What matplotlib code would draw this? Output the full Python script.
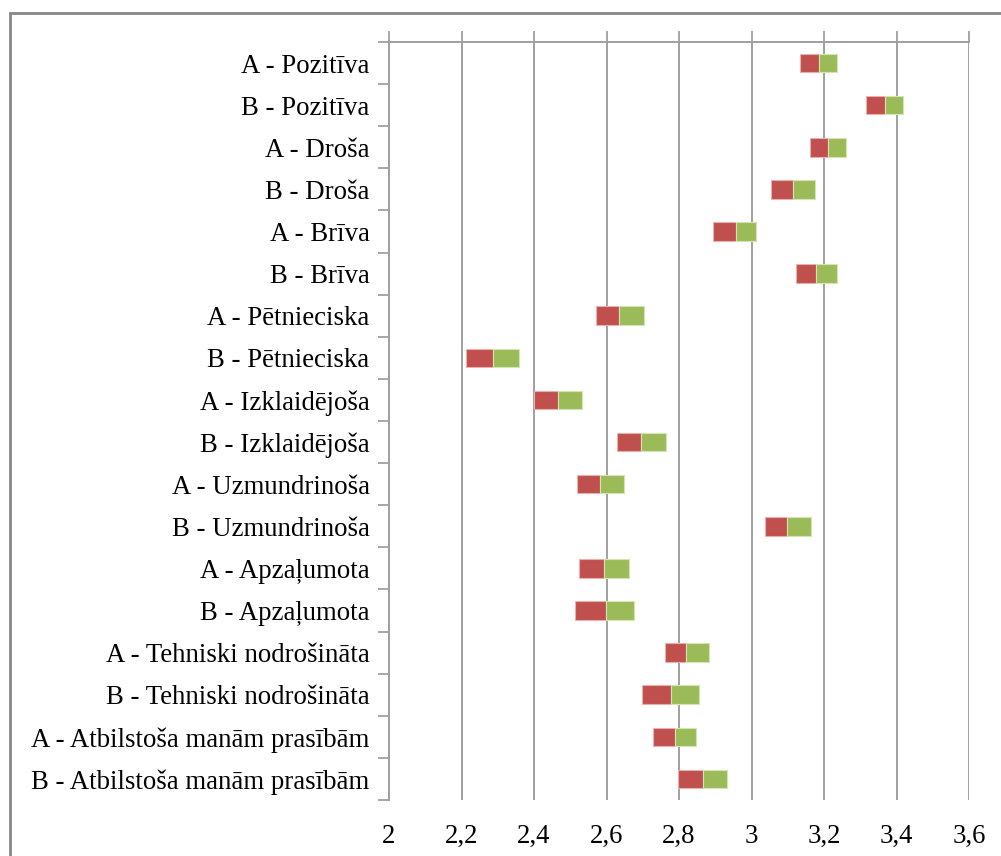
import matplotlib
matplotlib.use("Agg")
import matplotlib.pyplot as plt
from matplotlib.patches import Rectangle
import numpy as np

categories = [
    "A - Pozitīva", "B - Pozitīva", "A - Droša", "B - Droša",
    "A - Brīva", "B - Brīva", "A - Pētnieciska", "B - Pētnieciska",
    "A - Izklaidējoša", "B - Izklaidējoša", "A - Uzmundrinoša", "B - Uzmundrinoša",
    "A - Apzaļumota", "B - Apzaļumota", "A - Tehniski nodrošināta",
    "B - Tehniski nodrošināta", "A - Atbilstoša manām prasībām",
    "B - Atbilstoša manām prasībām",
]
low = [3.135, 3.316, 3.160, 3.054, 2.894, 3.122, 2.572, 2.212, 2.399, 2.629,
       2.519, 3.036, 2.523, 2.512, 2.761, 2.699, 2.728, 2.796]
mid = [3.185, 3.369, 3.211, 3.114, 2.956, 3.178, 2.635, 2.286, 2.467, 2.696,
       2.583, 3.099, 2.594, 2.598, 2.820, 2.778, 2.788, 2.867]
high = [3.237, 3.418, 3.262, 3.174, 3.012, 3.237, 2.703, 2.359, 2.533, 2.763,
        2.647, 3.163, 2.663, 2.677, 2.883, 2.855, 2.848, 2.932]
xticks = [2.0, 2.2, 2.4, 2.6, 2.8, 3.0, 3.2, 3.4, 3.6]
xticklabels = ["2", "2,2", "2,4", "2,6", "2,8", "3", "3,2", "3,4", "3,6"]

W, H = 1001, 856
fig = plt.figure(figsize=(W / 100, H / 100), dpi=100)
fig.patch.set_facecolor("white")

# outer chart frame (cropped on the right/bottom)
fig.patches.append(Rectangle((10 / W, -0.1), 1.2, (H - 13) / H + 0.1,
                             transform=fig.transFigure, fill=False,
                             edgecolor="#868686", linewidth=2))

ax = fig.add_axes([389 / W, (H - 800) / H, (969 - 389) / W, (800 - 42) / H])

y = np.arange(len(categories))
low_a = np.array(low); mid_a = np.array(mid); high_a = np.array(high)
ax.barh(y, mid_a - low_a, left=low_a, height=0.44, color="#C0504D",
        edgecolor="#E8B0AE", linewidth=0.8, zorder=3)
ax.barh(y, high_a - mid_a, left=mid_a, height=0.44, color="#9BBB59",
        edgecolor="#D4E4B4", linewidth=0.8, zorder=3)

ax.set_xlim(2.0, 3.6)
ax.set_ylim(len(categories) - 0.5, -0.5)

ax.set_xticks(xticks)
ax.set_xticklabels(xticklabels, fontfamily="Liberation Serif", fontsize=19.3)
ax.tick_params(axis="x", bottom=False, top=True, labelbottom=True, labeltop=False,
               direction="out", length=8, width=1.3, color="#A0A0A0", pad=9)
ax.xaxis.grid(True, color="#A0A0A0", linewidth=1.4, zorder=0)
ax.set_axisbelow(True)

ax.set_yticks(y)
ax.set_yticklabels(categories, fontfamily="Liberation Serif", fontsize=19.3)
ax.set_yticks(np.arange(-0.5, len(categories), 1.0), minor=True)
ax.tick_params(axis="y", which="major", length=0, pad=14)
ax.tick_params(axis="y", which="minor", length=8, width=1.3, color="#A0A0A0",
               direction="out")

for s in ("bottom", "right"):
    ax.spines[s].set_visible(False)
for s in ("top", "left"):
    ax.spines[s].set_color("#A0A0A0")
    ax.spines[s].set_linewidth(1.4)

fig.savefig("out.png", dpi=100, facecolor="white")
